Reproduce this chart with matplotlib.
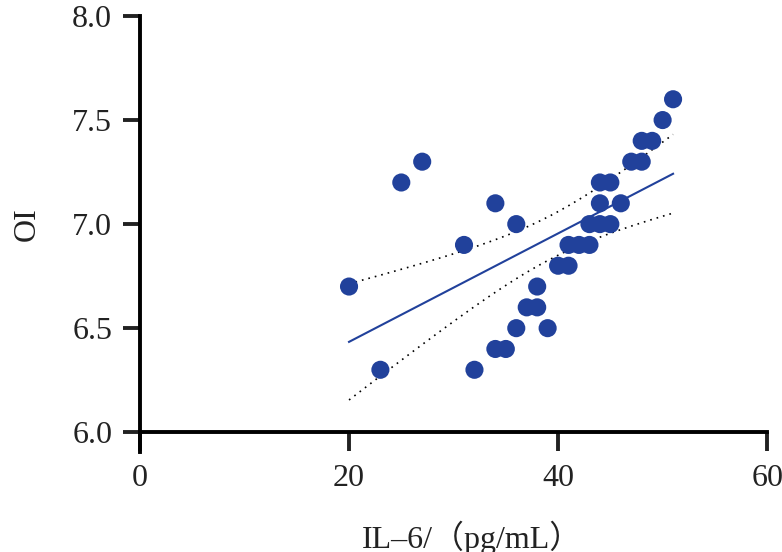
import numpy as np
import matplotlib.pyplot as plt

# IL-6 (pg/mL) vs OI
il6 = [20, 23, 25, 27, 31, 32, 34, 34, 35, 36, 36, 37, 38, 38, 39, 40, 41, 41,
       42, 43, 43, 44, 44, 44, 45, 45, 46, 47, 48, 48, 49, 50, 51]
oi = [6.7, 6.3, 7.2, 7.3, 6.9, 6.3, 7.1, 6.4, 6.4, 7.0, 6.5, 6.6, 6.7, 6.6, 6.5, 6.8, 6.9, 6.8,
      6.9, 7.0, 6.9, 7.2, 7.1, 7.0, 7.2, 7.0, 7.1, 7.3, 7.4, 7.3, 7.4, 7.5, 7.6]

x_ticks = [0, 20, 40, 60]
y_ticks = [6.0, 6.5, 7.0, 7.5, 8.0]

x = np.array(il6, dtype=float)
y = np.array(oi, dtype=float)

# linear fit with 95% confidence band of the mean
n = len(x)
slope, intercept = np.polyfit(x, y, 1)
resid = y - (slope * x + intercept)
s = np.sqrt(np.sum(resid ** 2) / (n - 2))
t_val = 2.04
xs = np.linspace(x.min(), x.max(), 200)
ys = slope * xs + intercept
se = s * np.sqrt(1 / n + (xs - x.mean()) ** 2 / np.sum((x - x.mean()) ** 2))

blue = '#21419b'
txt = '#222222'

plt.rcParams['font.family'] = ['Liberation Serif', 'Noto Sans CJK SC']
fig = plt.figure(figsize=(7.82, 5.52), dpi=100)
ax = fig.add_axes([0.179, 0.217, 0.802, 0.754])

ax.scatter(x, y, s=170, color=blue, edgecolors='none', zorder=3)
ax.plot(xs, ys, color=blue, linewidth=1.5, zorder=2)
ax.plot(xs, ys + t_val * se, color='black', linestyle=(0, (1, 3)), linewidth=1.2)
ax.plot(xs, ys - t_val * se, color='black', linestyle=(0, (1, 3)), linewidth=1.2)

ax.set_xlim(0, 60)
ax.set_ylim(6.0, 8.0)
ax.set_xticks(x_ticks)
ax.set_yticks(y_ticks)
ax.set_yticklabels([f'{v:.1f}' for v in y_ticks])

for side in ['top', 'right']:
    ax.spines[side].set_visible(False)
for side in ['left', 'bottom']:
    ax.spines[side].set_linewidth(2.8)
ax.spines['left'].set_bounds(5.905, 8.0)

ax.tick_params(axis='x', length=14, width=2.8, labelsize=23, pad=9, colors=txt)
ax.tick_params(axis='y', length=12, width=2.8, labelsize=23, pad=8, colors=txt)

ax.set_xlabel('IL–6/（pg/mL）', fontsize=23, labelpad=20, color=txt)
ax.xaxis.label.set_x(0.53)
ax.set_ylabel('OI', fontsize=23, labelpad=22, color=txt)

fig.savefig('out.png', dpi=100)
